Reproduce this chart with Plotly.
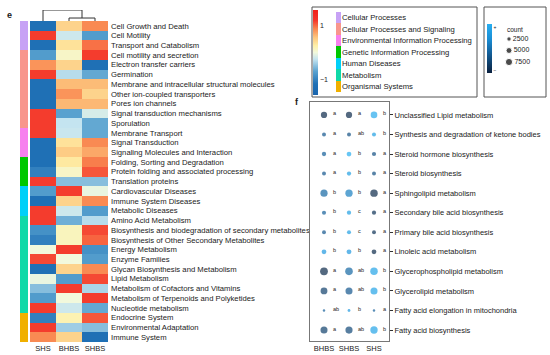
import math
import plotly.graph_objects as go

W, H = 550, 355
FONT = "Liberation Sans"
TXT = "#1a1a1a"

# ---------------- heatmap data (panel e) ----------------
heat_cols = ["SHS", "BHBS", "SHBS"]
heat_rows = [
    "Cell Growth and Death", "Cell Motility", "Transport and Catabolism",
    "Cell motility and secretion", "Electron transfer carriers", "Germination",
    "Membrane and intracellular structural molecules", "Other ion-coupled transporters",
    "Pores ion channels", "Signal transduction mechanisms", "Sporulation",
    "Membrane Transport", "Signal Transduction", "Signaling Molecules and Interaction",
    "Folding, Sorting and Degradation", "Protein folding and associated processing",
    "Translation proteins", "Cardiovascular Diseases", "Immune System Diseases",
    "Metabolic Diseases", "Amino Acid Metabolism",
    "Biosynthesis and biodegradation of secondary metabolites",
    "Biosynthesis of Other Secondary Metabolites", "Energy Metabolism", "Enzyme Families",
    "Glycan Biosynthesis and Metabolism", "Lipid Metabolism",
    "Metabolism of Cofactors and Vitamins", "Metabolism of Terpenoids and Polyketides",
    "Nucleotide metabolism", "Endocrine System", "Environmental Adaptation", "Immune System",
]
heat_SHS = [-1.15, 1.15, -1.15, -0.75, 0.80, 1.15, -1.15, -1.15, -1.15, 1.15, 1.15,
            1.15, -1.15, -1.15, -1.15, -1.00, 1.15, -0.75, -1.15, 1.15, 1.15,
            -0.85, -1.00, 0.00, 1.10, -1.15, -0.05, -0.50, -0.75, 1.15, -1.00, 1.15, 0.85]
heat_BHBS = [0.45, -0.20, 0.35, 0.10, 0.45, -0.30, 0.60, 0.80, 0.62, -0.70, -0.25,
             -0.22, 0.35, 0.50, 0.30, 0.10, -0.50, 1.15, 0.45, -0.20, -0.60,
             0.15, 0.15, 1.15, 0.00, 0.45, -0.75, 1.15, 0.00, -0.20, 0.20, -0.40, 0.45]
heat_SHBS = [0.85, -0.75, 0.95, 1.15, -1.15, -0.65, 0.60, 0.45, 0.62, -0.15, -0.65,
             -0.65, 0.85, 0.70, 0.90, 1.05, -0.50, -0.05, 0.85, -0.75, -0.30,
             1.10, 1.00, -0.85, -0.75, 0.85, 1.10, -0.35, 1.15, -0.65, 1.05, -0.50, -1.15]

categories = ["Cellular Processes", "Cellular Processes and Signaling",
              "Environmental Information Processing", "Genetic Information Processing",
              "Human Diseases", "Metabolism", "Organismal Systems"]
category_colors = ["#c7a2f5", "#f8968c", "#f781ee", "#00c800", "#00d0f8", "#10d9a8", "#f0b000"]
row_category = (["Cellular Processes"] * 3 + ["Cellular Processes and Signaling"] * 8 +
                ["Environmental Information Processing"] * 3 +
                ["Genetic Information Processing"] * 3 + ["Human Diseases"] * 3 +
                ["Metabolism"] * 10 + ["Organismal Systems"] * 3)

# column dendrogram: (left, right, height)
dendro_merges = [("BHBS", "SHBS", 0.27), ("SHS", "BHBS+SHBS", 1.0)]

heat_scale = [
    [0.00, "#1a66ae"], [0.13, "#1f70b5"], [0.28, "#5ba3d0"], [0.42, "#c4e4f0"],
    [0.50, "#f2f9dc"], [0.58, "#fef0a8"], [0.68, "#fdc47d"], [0.78, "#f98650"],
    [0.88, "#f4352a"], [1.00, "#f0201a"],
]

# ---------------- dot plot data (panel f) ----------------
dot_groups = ["BHBS", "SHBS", "SHS"]
dot_pathways = [
    "Unclassified Lipid metabolism", "Synthesis and degradation of ketone bodies",
    "Steroid hormone biosynthesis", "Steroid biosynthesis", "Sphingolipid metabolism",
    "Secondary bile acid biosynthesis", "Primary bile acid biosynthesis",
    "Linoleic acid metabolism", "Glycerophospholipid metabolism",
    "Glycerolipid metabolism", "Fatty acid elongation in mitochondria",
    "Fatty acid biosynthesis",
]
count_BHBS = [5600, 1900, 2400, 1900, 7500, 2100, 1900, 3000, 9000, 6800, 400, 7300]
count_SHBS = [5600, 1900, 3000, 2300, 7800, 2300, 2000, 3200, 8500, 7300, 700, 7500]
count_SHS = [6400, 2000, 2200, 1900, 8200, 2200, 1900, 3000, 8300, 7300, 400, 8000]
level_BHBS = [0.05, 0.35, 0.40, 0.35, 0.45, 0.40, 0.35, 0.80, 0.05, 0.20, 0.40, 0.20]
level_SHBS = [0.05, 0.30, 1.00, 0.85, 0.60, 0.85, 0.85, 0.80, 0.45, 0.35, 0.80, 0.25]
level_SHS = [0.95, 0.85, 0.30, 0.30, 0.05, 0.10, 0.10, 0.05, 0.90, 0.90, 0.40, 0.90]
letters_BHBS = ["a", "a", "a", "a", "b", "b", "b", "b", "a", "a", "ab", "a"]
letters_SHBS = ["a", "ab", "b", "b", "b", "c", "c", "b", "ab", "ab", "b", "ab"]
letters_SHS = ["b", "b", "a", "a", "a", "a", "a", "a", "b", "b", "a", "b"]
size_legend_counts = [2500, 5000, 7500]

dot_scale = [[0.0, "#0a213f"], [0.4, "#135e98"], [0.7, "#1a8fd6"], [1.0, "#28aef0"]]


def px_x(p):
    return p / W


def px_y(p):
    return 1 - p / H


def dom_x(a, b):
    return [px_x(a), px_x(b)]


def dom_y(top, bottom):
    return [px_y(bottom), px_y(top)]


def dot_size(c):
    return 1.1 * math.sqrt(2.875 + 0.00525 * c)


fig = go.Figure()

# main heatmap
z = [[heat_SHS[i], heat_BHBS[i], heat_SHBS[i]] for i in range(len(heat_rows))]
fig.add_trace(go.Heatmap(
    z=z, x=heat_cols, y=heat_rows, colorscale=heat_scale, zmin=-1.55, zmax=1.55,
    xaxis="x", yaxis="y", hoverinfo="skip",
    colorbar=dict(x=px_x(313), xanchor="left", xpad=0, y=px_y(52.5), yanchor="middle",
                  ypad=0, thicknessmode="pixels", thickness=5, lenmode="pixels", len=85,
                  outlinewidth=0, ticks="", tickvals=[-1, 1], ticktext=["\u22121", "1"],
                  tickfont=dict(size=7, family=FONT, color=TXT)),
))

# row annotation bar
n_cat = len(categories)
cat_scale = []
for i, c in enumerate(category_colors):
    cat_scale.append([i / n_cat, c])
    cat_scale.append([(i + 1) / n_cat, c])
cat_idx = [[categories.index(r)] for r in row_category]
fig.add_trace(go.Heatmap(
    z=cat_idx, x=["cat"], y=heat_rows, colorscale=cat_scale, zmin=-0.5, zmax=n_cat - 0.5,
    showscale=False, xaxis="x2", yaxis="y2", hoverinfo="skip",
))

# dendrogram
pos = {c: (float(i), 0.0) for i, c in enumerate(heat_cols)}
dx, dy = [], []
for a, b, h in dendro_merges:
    xa, ha = pos[a]
    xb, hb = pos[b]
    dx += [xa, xa, xb, xb, None]
    dy += [ha, h, h, hb, None]
    pos[a + "+" + b] = ((xa + xb) / 2, h)
fig.add_trace(go.Scatter(x=dx, y=dy, mode="lines", line=dict(color="#333", width=1),
                         xaxis="x3", yaxis="y3", hoverinfo="skip"))

# category legend swatches
fig.add_trace(go.Heatmap(
    z=[[i] for i in range(n_cat)], x=["c"], y=categories, colorscale=cat_scale,
    zmin=-0.5, zmax=n_cat - 0.5, showscale=False, xaxis="x4", yaxis="y4", hoverinfo="skip",
))

# dot plot
counts = [count_BHBS, count_SHBS, count_SHS]
levels = [level_BHBS, level_SHBS, level_SHS]
letters = [letters_BHBS, letters_SHBS, letters_SHS]
xs, ys, ss, cs = [], [], [], []
for g, grp in enumerate(dot_groups):
    for r, pw in enumerate(dot_pathways):
        xs.append(grp)
        ys.append(pw)
        ss.append(dot_size(counts[g][r]))
        cs.append(levels[g][r])
fig.add_trace(go.Scatter(
    x=xs, y=ys, mode="markers", xaxis="x5", yaxis="y5", hoverinfo="skip",
    marker=dict(size=ss, color=cs, colorscale=dot_scale, cmin=0, cmax=1, line=dict(width=0),
                colorbar=dict(x=px_x(487), xanchor="left", xpad=0, y=px_y(48.5),
                              yanchor="middle", ypad=0, thicknessmode="pixels", thickness=5,
                              lenmode="pixels", len=49, outlinewidth=0, ticks="",
                              tickvals=[0.06, 0.94], ticktext=["\u2212", "+"],
                              tickfont=dict(size=5, family=FONT, color=TXT))),
))

annotations = []
for g, grp in enumerate(dot_groups):
    for r, pw in enumerate(dot_pathways):
        annotations.append(dict(x=grp, y=pw, xref="x5", yref="y5", text=letters[g][r],
                                showarrow=False, xanchor="left", yanchor="middle",
                                xshift=7, yshift=1.5,
                                font=dict(size=5.5, family=FONT, color=TXT)))

# size legend
fig.add_trace(go.Scatter(
    x=[0] * len(size_legend_counts), y=list(range(len(size_legend_counts))),
    mode="markers+text", text=[str(c) for c in size_legend_counts],
    textposition="middle right", textfont=dict(size=7, family=FONT, color=TXT),
    marker=dict(size=[dot_size(c) for c in size_legend_counts], color="black"),
    xaxis="x6", yaxis="y6", hoverinfo="skip",
))

annotations += [
    dict(x=px_x(505), y=px_y(29), xref="paper", yref="paper", text="count", showarrow=False,
         xanchor="left", yanchor="middle", font=dict(size=6.5, family=FONT, color=TXT)),
    dict(x=px_x(5), y=px_y(15), xref="paper", yref="paper", text="<b>e</b>", showarrow=False,
         xanchor="left", yanchor="middle", font=dict(size=9, family=FONT, color=TXT)),
    dict(x=px_x(293), y=px_y(102), xref="paper", yref="paper", text="<b>f</b>",
         showarrow=False, xanchor="left", yanchor="middle",
         font=dict(size=9, family=FONT, color=TXT)),
]

shapes = [
    dict(type="rect", xref="paper", yref="paper", x0=px_x(312), x1=px_x(477),
         y0=px_y(97), y1=px_y(7), line=dict(color="#555", width=1)),
    dict(type="rect", xref="paper", yref="paper", x0=px_x(484), x1=px_x(546),
         y0=px_y(97), y1=px_y(7), line=dict(color="#555", width=1)),
]

hidden = dict(showgrid=False, zeroline=False, showticklabels=False, ticks="", showline=False)
nrow = len(heat_rows)
ndot = len(dot_pathways)

fig.update_layout(
    width=W, height=H, margin=dict(l=0, r=0, t=0, b=0),
    paper_bgcolor="white", plot_bgcolor="white", showlegend=False,
    font=dict(family=FONT, color=TXT),
    annotations=annotations, shapes=shapes,
    xaxis=dict(domain=dom_x(30, 108), range=[-0.5, 2.5], showgrid=False, zeroline=False,
               ticks="", tickfont=dict(size=7.5, color=TXT), anchor="y"),
    yaxis=dict(domain=dom_y(21, 342), range=[nrow - 0.5, -0.5], side="right",
               showgrid=False, zeroline=False, ticks="", ticklabelstandoff=2,
               tickfont=dict(size=7.7, color=TXT), anchor="x"),
    xaxis2=dict(domain=dom_x(20, 28), anchor="y2", **hidden),
    yaxis2=dict(domain=dom_y(21, 342), range=[nrow - 0.5, -0.5], anchor="x2", **hidden),
    xaxis3=dict(domain=dom_x(30, 108), range=[-0.5, 2.5], anchor="y3", **hidden),
    yaxis3=dict(domain=dom_y(10, 21), range=[0, 1.0], anchor="x3", **hidden),
    xaxis4=dict(domain=dom_x(336, 341), anchor="y4", **hidden),
    yaxis4=dict(domain=dom_y(12, 92), range=[n_cat - 0.5, -0.5], side="right", anchor="x4",
                showgrid=False, zeroline=False, ticks="", tickfont=dict(size=7.7, color=TXT)),
    xaxis5=dict(domain=dom_x(310, 389), range=[-0.56, 2.6], anchor="y5", showgrid=False,
                zeroline=False, ticks="", showline=True, mirror=True, linecolor="#777",
                linewidth=1, tickfont=dict(size=7.5, color=TXT)),
    yaxis5=dict(domain=dom_y(102, 341), range=[ndot - 1 + 0.56, -0.66], side="right",
                anchor="x5", showgrid=False, zeroline=False, ticks="outside", ticklen=3,
                tickcolor="#333", showline=True, mirror=True, linecolor="#777", linewidth=1,
                tickfont=dict(size=7.5, color=TXT)),
    xaxis6=dict(domain=dom_x(501, 541), range=[-1, 4], anchor="y6", **hidden),
    yaxis6=dict(domain=dom_y(33, 68), range=[2.52, -0.52], anchor="x6", **hidden),
)

fig.write_html("out.html", config={"displayModeBar": False},
               post_script="document.body.style.margin='0';")
